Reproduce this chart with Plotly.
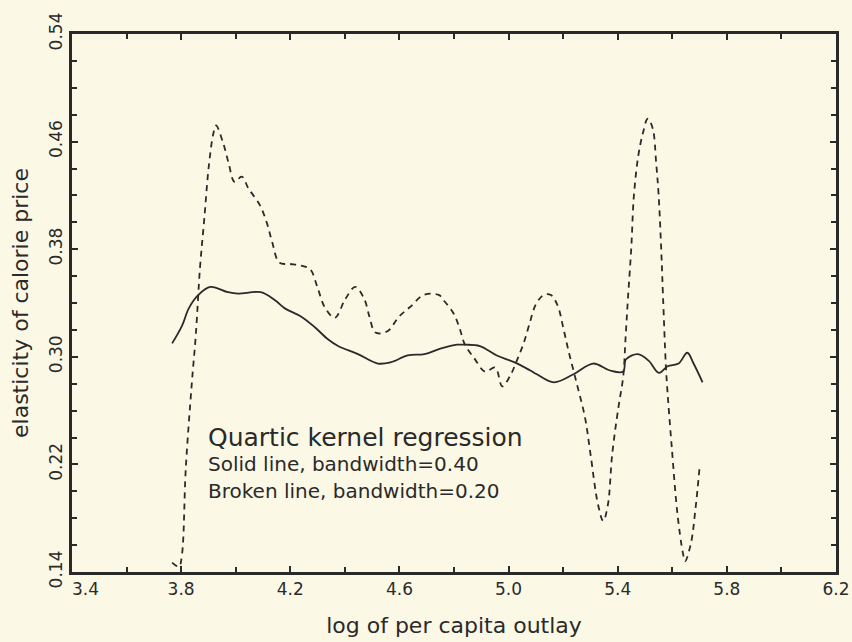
import plotly.graph_objects as go

# Solid line: quartic kernel regression, bandwidth = 0.40
solid_x = [3.767, 3.803, 3.828, 3.863, 3.907, 3.972, 4.009, 4.092, 4.144, 4.180,
           4.239, 4.290, 4.338, 4.375, 4.448, 4.521, 4.569, 4.630, 4.692, 4.750,
           4.811, 4.840, 4.895, 4.957, 5.020, 5.078, 5.104, 5.166, 5.238, 5.310,
           5.369, 5.420, 5.430, 5.474, 5.514, 5.551, 5.583, 5.623, 5.655, 5.678,
           5.711]
solid_y = [0.310, 0.323, 0.336, 0.346, 0.352, 0.348, 0.347, 0.348, 0.342, 0.336,
           0.330, 0.322, 0.313, 0.308, 0.302, 0.295, 0.296, 0.301, 0.302, 0.306,
           0.309, 0.309, 0.308, 0.301, 0.296, 0.290, 0.287, 0.281, 0.287, 0.295,
           0.290, 0.289, 0.298, 0.302, 0.297, 0.288, 0.293, 0.295, 0.303, 0.295,
           0.281]

# Broken line: quartic kernel regression, bandwidth = 0.20
broken_x = [3.767, 3.792, 3.803, 3.817, 3.839, 3.854, 3.869, 3.885, 3.901, 3.918,
            3.928, 3.954, 3.974, 3.996, 4.022, 4.047, 4.088, 4.115, 4.134, 4.160,
            4.200, 4.237, 4.273, 4.299, 4.326, 4.363, 4.402, 4.438, 4.471, 4.490,
            4.512, 4.556, 4.599, 4.639, 4.689, 4.744, 4.762, 4.799, 4.821, 4.840,
            4.874, 4.914, 4.951, 4.977, 5.006, 5.030, 5.055, 5.076, 5.100, 5.129,
            5.155, 5.180, 5.200, 5.219, 5.250, 5.280, 5.300, 5.328, 5.347, 5.364,
            5.380, 5.403, 5.420, 5.429, 5.438, 5.450, 5.459, 5.475, 5.492, 5.510,
            5.528, 5.541, 5.550, 5.559, 5.566, 5.576, 5.581, 5.598, 5.619, 5.639,
            5.647, 5.668, 5.685, 5.701]
broken_y = [0.147, 0.144, 0.153, 0.217, 0.280, 0.317, 0.366, 0.403, 0.441, 0.466,
            0.472, 0.459, 0.444, 0.430, 0.434, 0.425, 0.413, 0.399, 0.385, 0.370,
            0.369, 0.368, 0.365, 0.352, 0.337, 0.329, 0.343, 0.352, 0.343, 0.330,
            0.318, 0.319, 0.330, 0.337, 0.346, 0.346, 0.342, 0.332, 0.321, 0.309,
            0.299, 0.289, 0.292, 0.278, 0.286, 0.297, 0.310, 0.324, 0.339, 0.346,
            0.346, 0.338, 0.322, 0.305, 0.280, 0.255, 0.228, 0.190, 0.178, 0.190,
            0.228, 0.263, 0.285, 0.315, 0.345, 0.382, 0.419, 0.449, 0.466, 0.477,
            0.470, 0.444, 0.420, 0.382, 0.345, 0.295, 0.278, 0.233, 0.183, 0.154,
            0.148, 0.161, 0.187, 0.220]

x_ticks = [3.4, 3.8, 4.2, 4.6, 5.0, 5.4, 5.8, 6.2]
x_tick_labels = ["\u00a0\u00a0\u00a0\u00a0\u00a03.4", "3.8", "4.2", "4.6", "5.0", "5.4", "5.8", "6.2"]
y_ticks = [0.14, 0.22, 0.30, 0.38, 0.46, 0.54]
y_tick_labels = ["0.14", "0.22", "0.30", "0.38", "0.46", "0.54"]

ink = "#2a2a2a"
paper = "#fcf8e6"
font_family = "DejaVu Sans, Lato, sans-serif"

fig = go.Figure()
fig.add_trace(go.Scatter(x=broken_x, y=broken_y, mode="lines",
                         line=dict(color=ink, width=1.8, dash="6px,5px"),
                         line_shape="spline", showlegend=False))
fig.add_trace(go.Scatter(x=solid_x, y=solid_y, mode="lines",
                         line=dict(color=ink, width=1.8),
                         line_shape="spline", showlegend=False))

fig.add_annotation(x=3.89, y=0.240, xref="x", yref="y", xanchor="left", yanchor="middle",
                   text="Quartic kernel regression", showarrow=False,
                   font=dict(size=25, color=ink, family=font_family))
fig.add_annotation(x=3.89, y=0.220, xref="x", yref="y", xanchor="left", yanchor="middle",
                   text="Solid line, bandwidth=0.40", showarrow=False,
                   font=dict(size=20, color=ink, family=font_family))
fig.add_annotation(x=3.89, y=0.200, xref="x", yref="y", xanchor="left", yanchor="middle",
                   text="Broken line, bandwidth=0.20", showarrow=False,
                   font=dict(size=20, color=ink, family=font_family))

axis_common = dict(showline=True, linecolor=ink, linewidth=2.5, mirror="allticks",
                   ticks="inside", ticklen=6, tickwidth=1.8, tickcolor=ink,
                   showgrid=False, zeroline=False, automargin=False,
                   ticklabeloverflow="allow",
                   tickfont=dict(size=17, color=ink, family=font_family))

fig.update_xaxes(range=[3.4, 6.2], tickmode="array", tickvals=x_ticks, ticktext=x_tick_labels,
                 minor=dict(dtick=0.2, tick0=3.4, ticks="inside", ticklen=5, tickcolor=ink, tickwidth=1.8),
                 title=dict(text="log of per capita outlay", standoff=20,
                            font=dict(size=22, color=ink, family=font_family)),
                 **axis_common)
fig.update_yaxes(range=[0.14, 0.54], tickmode="array", tickvals=y_ticks, ticktext=y_tick_labels,
                 tickangle=-90,
                 minor=dict(dtick=0.02, tick0=0.14, ticks="inside", ticklen=5, tickcolor=ink, tickwidth=1.8),
                 title=dict(text="elasticity of calorie price", standoff=12,
                            font=dict(size=22, color=ink, family=font_family)),
                 **axis_common)

fig.update_layout(width=852, height=642,
                  margin=dict(l=72, r=16, t=34, b=70),
                  paper_bgcolor=paper, plot_bgcolor=paper,
                  showlegend=False)

fig.write_html("out.html",
               config={"displayModeBar": False},
               post_script="document.body.style.margin='0';"
                           "document.body.style.background='#fcf8e6';"
                           "document.documentElement.style.overflow='hidden';")
